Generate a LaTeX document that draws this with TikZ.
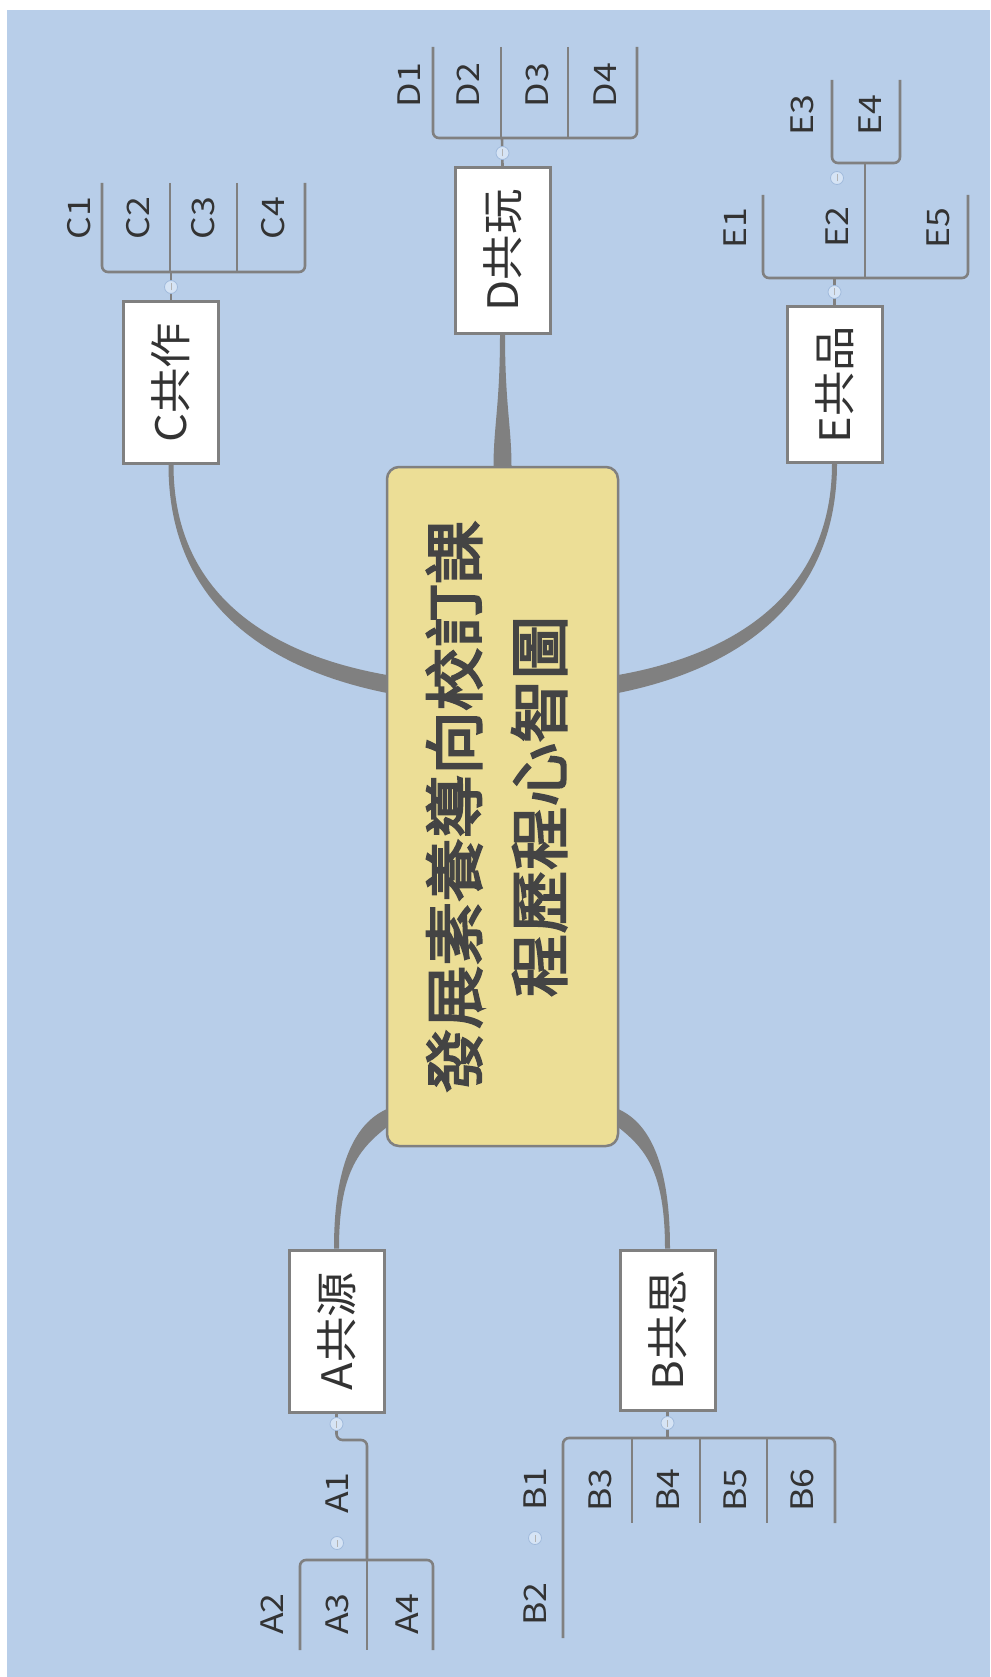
\documentclass[tikz,border=0pt]{standalone}
\usepackage{fontspec}
\setmainfont{Noto Sans CJK TC}
\newfontfamily\titlefont{Noto Sans CJK TC}[FakeBold=3]
\usepackage{graphicx}
\usepackage{tikz}
\usetikzlibrary{calc,backgrounds}

\definecolor{bgblue}{RGB}{184,206,233}
\definecolor{rootfill}{RGB}{236,222,150}
\definecolor{linegray}{RGB}{128,128,128}
\definecolor{textgray}{RGB}{51,51,51}
\definecolor{titlegray}{RGB}{68,68,68}
\definecolor{knobfill}{RGB}{214,228,245}
\definecolor{knobdraw}{RGB}{160,186,220}

% text that reads from bottom to top, a little stretched
\newcommand{\uptext}[2][1.08]{\rotatebox{90}{\scalebox{#1}[1]{#2}}}

\tikzset{
  rootbox/.style={draw=linegray, line width=2.5pt, fill=rootfill, rounded corners=12pt,
    minimum width=231pt, minimum height=679pt, inner sep=0pt, text=titlegray},
  topicbox/.style={draw=linegray, line width=3pt, fill=white, minimum width=95pt,
    minimum height=162pt, inner sep=0pt, text=textgray, font=\fontsize{42}{50}\selectfont},
  leaf/.style={inner sep=0pt, text=textgray, font=\fontsize{31}{37}\selectfont},
  leafline/.style={draw=linegray, line width=2.6pt, rounded corners=6pt},
  branch/.style={fill=linegray},
  knob/.style={circle, draw=knobdraw, fill=knobfill, line width=0.8pt, minimum size=13pt,
    inner sep=0pt, path picture={\draw[linegray!60, line width=0.8pt]
      ([yshift=-3.5pt]path picture bounding box.center) -- ([yshift=3.5pt]path picture bounding box.center);}}
}

\begin{document}
\begin{tikzpicture}[x=1pt,y=-1pt]

\useasboundingbox (0,0) rectangle (990,1677);

% central topic and the five main topics
\node (root) at (502.5,806.5) [rootbox]{\rotatebox{90}{\fontsize{60}{85}\titlefont
  \scalebox{1.06}[1]{\begin{tabular}{@{}c@{}}發展素養導向校訂課\\程歷程心智圖\end{tabular}}}};

\node (C) at (171,382.5) [topicbox]{\uptext{C共作}};
\node (D) at (502.5,250.5) [topicbox, minimum height=165pt]{\uptext{D共玩}};
\node (E) at (834.5,384.5) [topicbox, minimum height=155pt]{\uptext{E共品}};
\node (A) at (336.5,1331) [topicbox]{\uptext{A共源}};
\node (B) at (667.5,1330) [topicbox, minimum height=160pt]{\uptext{B共思}};

\coordinate (rC) at (387,684);
\coordinate (rE) at (618,684);
\coordinate (rA) at (387,1118);
\coordinate (rB) at (618,1118);

\begin{scope}[on background layer]
\fill[white] (0,0) rectangle (990,1677);
\fill[bgblue] (7,10) rectangle (990,1677);

% tapered main branches
\fill[branch] ($(C.south)+(-2.5,0)$) .. controls +(0,132) and +(-129,-26) .. ($(rC)+(0,9)$)
  -- ($(rC)+(0,-9)$) .. controls +(-125,-22) and +(0,124) .. ($(C.south)+(2.5,0)$) -- cycle;
\fill[branch] ($(E.south)+(2.5,0)$) .. controls +(0,132) and +(129,-26) .. ($(rE)+(0,9)$)
  -- ($(rE)+(0,-9)$) .. controls +(125,-22) and +(0,124) .. ($(E.south)+(-2.5,0)$) -- cycle;
\fill[branch] ($(D.south)+(-2.5,0)$) .. controls +(0,70) and +(0,-40) .. ($(root.north)+(-9,1)$)
  -- ($(root.north)+(9,1)$) .. controls +(0,-40) and +(0,70) .. ($(D.south)+(2.5,0)$) -- cycle;
\fill[branch] ($(A.north)+(-2.5,0)$) .. controls +(0,-84) and +(-32,14) .. ($(rA)+(0,-9)$)
  -- ($(rA)+(0,9)$) .. controls +(-28,22) and +(0,-76) .. ($(A.north)+(2.5,0)$) -- cycle;
\fill[branch] ($(B.north)+(2.5,0)$) .. controls +(0,-84) and +(32,14) .. ($(rB)+(0,-9)$)
  -- ($(rB)+(0,9)$) .. controls +(28,22) and +(0,-76) .. ($(B.north)+(-2.5,0)$) -- cycle;
\end{scope}

% C
\coordinate (jC) at (171,272);
\draw[leafline] (C.north) -- (jC);
\draw[leafline] (102,183) -- (102,272) -- (305,272) -- (305,183);
\draw[leafline] (170,183) -- (170,272);
\draw[leafline] (237,183) -- (237,272);
\node (kC) at (171,287) [knob]{};
\node (C1) at (79,218) [leaf]{\uptext[1.15]{C1}};
\node (C2) at (138,218) [leaf]{\uptext[1.15]{C2}};
\node (C3) at (203,218) [leaf]{\uptext[1.15]{C3}};
\node (C4) at (273,218) [leaf]{\uptext[1.15]{C4}};

% D
\coordinate (jD) at (502,138);
\draw[leafline] (D.north) -- (jD);
\draw[leafline] (433,47) -- (433,138) -- (637,138) -- (637,47);
\draw[leafline] (501,47) -- (501,138);
\draw[leafline] (568,47) -- (568,138);
\node (kD) at (502.5,153) [knob]{};
\node (D1) at (409,85) [leaf]{\uptext[1.15]{D1}};
\node (D2) at (468,85) [leaf]{\uptext[1.15]{D2}};
\node (D3) at (537,85) [leaf]{\uptext[1.15]{D3}};
\node (D4) at (605,85) [leaf]{\uptext[1.15]{D4}};

% E
\coordinate (jE) at (834.5,278);
\draw[leafline] (E.north) -- (jE);
\draw[leafline] (763,195) -- (763,278) -- (968,278) -- (968,195);
\draw[leafline] (865,278) -- (865,163);
\draw[leafline] (832,80) -- (832,163) -- (900,163) -- (900,80);
\node (kE) at (834.5,292) [knob]{};
\node (kE2) at (837,178) [knob]{};
\node (E1) at (735,228) [leaf]{\uptext[1.15]{E1}};
\node (E2) at (837,227) [leaf]{\uptext[1.15]{E2}};
\node (E5) at (938,228) [leaf]{\uptext[1.15]{E5}};
\node (E3) at (802,115) [leaf]{\uptext[1.15]{E3}};
\node (E4) at (870,115) [leaf]{\uptext[1.15]{E4}};

% A
\draw[leafline] (A.south) -- (336.5,1440) -- (367,1440) -- (367,1560);
\draw[leafline] (300,1650) -- (300,1560) -- (433,1560) -- (433,1650);
\draw[leafline] (367,1560) -- (367,1650);
\node (kA) at (336.5,1424) [knob]{};
\node (kA1) at (337,1543) [knob]{};
\node (A1) at (337,1493) [leaf]{\uptext[1.15]{A1}};
\node (A2) at (272,1614) [leaf]{\uptext[1.15]{A2}};
\node (A3) at (337,1614) [leaf]{\uptext[1.15]{A3}};
\node (A4) at (407,1614) [leaf]{\uptext[1.15]{A4}};

% B
\coordinate (jB) at (667.5,1438);
\draw[leafline] (B.south) -- (jB);
\draw[leafline] (563,1638) -- (563,1438) -- (835,1438) -- (835,1523);
\draw[leafline] (632,1438) -- (632,1523);
\draw[leafline] (700,1438) -- (700,1523);
\draw[leafline] (767,1438) -- (767,1523);
\node (kB) at (667.5,1423) [knob]{};
\node (kB1) at (535,1538) [knob]{};
\node (B1) at (535,1489) [leaf]{\uptext[1.15]{B1}};
\node (B2) at (535,1604) [leaf]{\uptext[1.15]{B2}};
\node (B3) at (600,1490) [leaf]{\uptext[1.15]{B3}};
\node (B4) at (668,1490) [leaf]{\uptext[1.15]{B4}};
\node (B5) at (735,1490) [leaf]{\uptext[1.15]{B5}};
\node (B6) at (802,1490) [leaf]{\uptext[1.15]{B6}};

\end{tikzpicture}
\end{document}
